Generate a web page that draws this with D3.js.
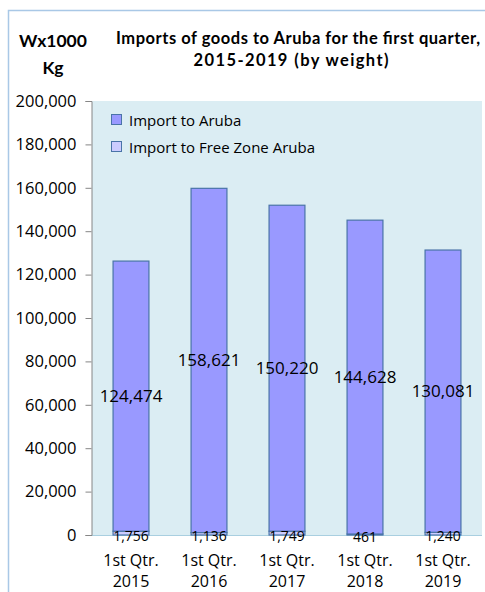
<!DOCTYPE html>
<html>
<head>
<meta charset="utf-8">
<script src="https://cdn.jsdelivr.net/npm/d3@7"></script>
<style>
  body { margin: 0; background: #fff; }
  svg { display: block; font-family: "Open Sans", Lato, sans-serif; }
</style>
</head>
<body>
<div id="chart"></div>
<script>
var quarters = ["1st Qtr.|2015", "1st Qtr.|2016", "1st Qtr.|2017", "1st Qtr.|2018", "1st Qtr.|2019"];
var importAruba = [124474, 158621, 150220, 144628, 130081];
var importFreeZone = [1756, 1136, 1749, 461, 1240];
var yTicks = [0, 20000, 40000, 60000, 80000, 100000, 120000, 140000, 160000, 180000, 200000];
var seriesNames = ["Import to Aruba", "Import to Free Zone Aruba"];

var W = 485, H = 592;
var m = {left: 92, right: 3, top: 101, bottom: 57};

var svg = d3.select("#chart").append("svg")
    .attr("width", W)
    .attr("height", H);

// outer chart frame
svg.append("rect")
    .attr("x", 8.5).attr("y", 10.5)
    .attr("width", W + 10).attr("height", H + 10)
    .attr("fill", "#fff")
    .attr("stroke", "#a9c8e6")
    .attr("stroke-width", 1.5);

var x = d3.scaleBand()
    .domain(quarters)
    .range([m.left, W - m.right])
    .paddingInner(0.54)
    .paddingOuter(0.27);

var y = d3.scaleLinear()
    .domain([0, 200000])
    .range([H - m.bottom, m.top]);

// plot background
svg.append("rect")
    .attr("x", m.left).attr("y", m.top)
    .attr("width", W - m.right - m.left)
    .attr("height", y(0) - m.top)
    .attr("fill", "#dbedf3");

svg.append("line")
    .attr("x1", m.left).attr("x2", W - m.right)
    .attr("y1", y(0) + 0.5).attr("y2", y(0) + 0.5)
    .attr("stroke", "#a9cfe0");

// stacked bars: free zone at bottom, Aruba above
var rows = quarters.map(function (q, i) {
    return {q: q, fz: importFreeZone[i], ar: importAruba[i]};
});

var g = svg.append("g");
g.selectAll("rect.fz").data(rows).enter().append("rect")
    .attr("class", "fz")
    .attr("x", function (d) { return x(d.q); })
    .attr("width", x.bandwidth())
    .attr("y", function (d) { return y(d.fz); })
    .attr("height", function (d) { return y(0) - y(d.fz); })
    .attr("fill", "#ccccff")
    .attr("stroke", "#4a74a8")
    .attr("stroke-width", 1.2);

g.selectAll("rect.ar").data(rows).enter().append("rect")
    .attr("class", "ar")
    .attr("x", function (d) { return x(d.q); })
    .attr("width", x.bandwidth())
    .attr("y", function (d) { return y(d.fz + d.ar); })
    .attr("height", function (d) { return y(d.fz) - y(d.fz + d.ar); })
    .attr("fill", "#9999ff")
    .attr("stroke", "#4a74a8")
    .attr("stroke-width", 1.2);

var fmt = d3.format(",");

g.selectAll("text.arl").data(rows).enter().append("text")
    .attr("class", "arl")
    .attr("x", function (d) { return x(d.q) + x.bandwidth() / 2; })
    .attr("y", function (d) { return y(d.fz + d.ar / 2); })
    .attr("dy", "0.35em")
    .attr("text-anchor", "middle")
    .attr("font-size", 17)
    .attr("fill", "#000")
    .text(function (d) { return fmt(d.ar); });

g.selectAll("text.fzl").data(rows).enter().append("text")
    .attr("class", "fzl")
    .attr("x", function (d) { return x(d.q) + x.bandwidth() / 2; })
    .attr("y", function (d) { return y(d.fz / 2); })
    .attr("dy", "0.55em")
    .attr("text-anchor", "middle")
    .attr("font-size", 14)
    .attr("fill", "#000")
    .text(function (d) { return fmt(d.fz); });

// y axis
var yAxis = svg.append("g")
    .attr("transform", "translate(" + (m.left - 0.5) + ",0)")
    .call(d3.axisLeft(y).tickValues(yTicks).tickSize(6).tickPadding(9)
        .tickFormat(d3.format(",")));
yAxis.select(".domain").attr("stroke", "#868686");
yAxis.selectAll("line").attr("stroke", "#868686");
yAxis.selectAll("text")
    .attr("font-family", "'Open Sans', Lato, sans-serif")
    .attr("font-size", 16.5)
    .attr("fill", "#000");

// x labels
var xl = svg.append("g").selectAll("text").data(quarters).enter().append("text")
    .attr("x", function (d) { return x(d) + x.bandwidth() / 2; })
    .attr("y", 566)
    .attr("text-anchor", "middle")
    .attr("font-size", 16)
    .attr("fill", "#000");
xl.append("tspan")
    .attr("x", function (d) { return x(d) + x.bandwidth() / 2; })
    .text(function (d) { return d.split("|")[0]; });
xl.append("tspan")
    .attr("x", function (d) { return x(d) + x.bandwidth() / 2; })
    .attr("dy", 21)
    .text(function (d) { return d.split("|")[1]; });

// titles
svg.append("text").attr("x", 53).attr("y", 47)
    .attr("text-anchor", "middle").attr("font-weight", "bold").attr("font-size", 17.5)
    .attr("font-family", "Lato, sans-serif")
    .text("Wx1000");
svg.append("text").attr("x", 53).attr("y", 74)
    .attr("text-anchor", "middle").attr("font-weight", "bold").attr("font-size", 17.5)
    .attr("font-family", "Lato, sans-serif")
    .text("Kg");
svg.append("text").attr("x", 298).attr("y", 44)
    .attr("text-anchor", "middle").attr("font-weight", "bold").attr("font-size", 16.5)
    .attr("font-family", "Lato, sans-serif")
    .attr("textLength", 364).attr("lengthAdjust", "spacing")
    .text("Imports of goods to Aruba for the first quarter,");
svg.append("text").attr("x", 291).attr("y", 66)
    .attr("text-anchor", "middle").attr("font-weight", "bold").attr("font-size", 16.5)
    .attr("font-family", "Lato, sans-serif")
    .attr("textLength", 195).attr("lengthAdjust", "spacing")
    .text("2015-2019 (by weight)");

// legend
var legColors = ["#9999ff", "#ccccff"];
var leg = svg.append("g").selectAll("g").data(seriesNames).enter().append("g")
    .attr("transform", function (d, i) { return "translate(111," + (114 + i * 27) + ")"; });
leg.append("rect")
    .attr("x", 0.5).attr("y", 0.5).attr("width", 10).attr("height", 10)
    .attr("fill", function (d, i) { return legColors[i]; })
    .attr("stroke", "#4a74a8");
leg.append("text")
    .attr("x", 18).attr("y", 11.5)
    .attr("font-size", 15)
    .text(function (d) { return d; });
</script>
</body>
</html>
